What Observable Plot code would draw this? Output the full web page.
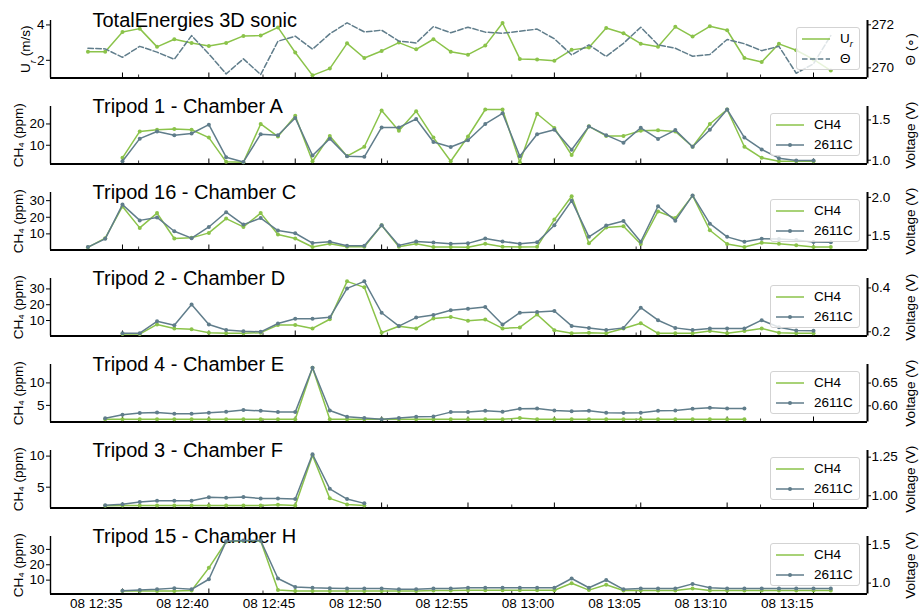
<!DOCTYPE html>
<html><head><meta charset="utf-8">
<script src="https://cdn.jsdelivr.net/npm/d3@7"></script>
<script src="https://cdn.jsdelivr.net/npm/@observablehq/plot@0.6"></script>
<style>
html,body{margin:0;padding:0;background:#fff;}
#chart{position:relative;width:919px;height:612px;font-family:"Liberation Sans",Arial,Helvetica,sans-serif;overflow:hidden;}
#chart svg.panel{position:absolute;left:0;}
.legend{position:absolute;background:rgba(255,255,255,0.8);border:1px solid #d3d3d3;border-radius:3px;box-sizing:border-box;}
.legend svg{position:absolute;left:4px;}
.legend span{position:absolute;left:43px;font-size:13.5px;line-height:16px;color:#000;white-space:nowrap;}
</style>
</head><body>
<div id="chart"></div>
<script>
// ---------------- data ----------------
const majorTicks = ["12:35","12:40","12:45","12:50","12:55","13:00","13:05","13:10","13:15"];
const minorTicks = ["12:35:56","12:43:08","12:50:20","12:57:32","13:04:44","13:11:56"];

// TotalEnergies 3D sonic, one value per minute from 12:33
const sonicStart = "12:33";
const Ur = [2.49,2.49,3.60,3.79,2.76,3.19,2.98,2.81,2.98,3.38,
            3.40,3.86,2.44,1.15,1.53,2.96,2.13,2.53,3.00,2.62,
            3.19,2.49,2.32,2.83,4.11,2.08,2.04,1.98,2.59,2.72,
            3.83,3.53,2.94,2.77,3.89,3.34,3.92,3.70,2.13,1.91,
            2.93,2.57,2.05,1.42];
const Theta = [270.91,270.88,270.49,271.00,270.73,270.40,271.50,270.65,269.72,270.42,
               269.69,271.24,271.47,270.87,271.58,272.09,271.67,271.75,271.24,271.16,
               271.92,271.63,271.89,271.66,271.61,271.70,271.80,271.35,270.60,271.07,
               270.53,271.14,271.89,271.07,270.91,270.54,270.62,271.32,271.12,270.80,
               271.00,269.75,270.19,271.50];

// Tripod 1 - Chamber A (from 12:35)
const startA = "12:35";
const ch4A = [4.1,16.5,17.3,17.6,17.3,13.6,2.2,2.0,20.0,14.1,
              23.8,2.5,14.4,4.9,9.3,26.3,16.8,26.0,13.6,2.5,
              14.1,26.8,26.8,2.0,24.8,18.1,5.4,18.9,14.4,14.4,
              16.8,17.1,16.5,9.3,20.0,26.8,9.3,4.1,2.5,2.5,
              2.5];
const voltA = [0.987,1.268,1.357,1.311,1.332,1.441,1.038,0.979,1.323,1.311,
               1.525,1.059,1.268,1.050,1.042,1.407,1.407,1.512,1.227,1.164,
               1.248,1.450,1.583,1.050,1.323,1.378,1.130,1.420,1.311,1.218,
               1.403,1.264,1.374,1.168,1.378,1.630,1.281,1.134,1.025,0.996,
               0.996];

// Tripod 16 - Chamber C (from 12:33)
const startC = "12:33";
const ch4C = [1.9,7.4,26.5,13.6,22.5,7.2,7.6,10.6,19.2,14.2,
              22.5,9.6,7.2,2.1,4.0,2.3,2.3,15.2,2.3,4.0,
              2.1,2.1,1.9,4.0,2.3,2.1,2.3,18.6,32.6,4.3,
              13.8,14.6,3.9,23.5,19.5,33.0,12.2,3.9,2.1,4.6,
              4.0,3.1,2.1,2.1];
const voltC = [1.343,1.452,1.905,1.696,1.735,1.552,1.461,1.609,1.804,1.640,
               1.726,1.561,1.526,1.396,1.413,1.360,1.360,1.631,1.365,1.417,
               1.404,1.387,1.392,1.457,1.418,1.387,1.405,1.631,1.957,1.478,
               1.627,1.687,1.413,1.883,1.692,2.026,1.653,1.478,1.413,1.452,
               1.448,1.435,1.409,1.405];

// Tripod 2 - Chamber D (from 12:35)
const startD = "12:35";
const ch4D = [1.4,1.4,7.5,5.0,4.4,2.3,1.9,1.9,2.3,7.1,
              7.1,5.0,10.8,34.8,31.0,2.3,6.4,5.0,11.3,12.3,
              9.8,10.6,5.0,5.6,13.8,3.9,1.9,2.3,1.9,5.0,
              8.3,1.9,1.9,1.9,3.3,1.9,3.3,5.0,2.3,1.9,
              1.9];
const voltD = [0.194,0.194,0.248,0.230,0.325,0.233,0.208,0.203,0.200,0.238,
               0.260,0.260,0.266,0.398,0.430,0.287,0.226,0.265,0.277,0.298,
               0.305,0.313,0.233,0.287,0.290,0.295,0.227,0.218,0.208,0.218,
               0.310,0.253,0.218,0.208,0.215,0.215,0.215,0.253,0.221,0.206,
               0.205];

// Tripod 4 - Chamber E (from 12:34)
const startE = "12:34";
const ch4E = [1.9,1.9,1.9,1.9,1.9,1.9,1.9,1.9,1.9,1.9,
              1.9,1.9,13.4,1.9,1.9,1.9,1.9,1.9,1.9,1.9,
              1.9,1.9,1.9,1.9,2.2,1.9,1.9,1.9,1.9,1.9,
              1.9,1.9,1.9,1.9,1.9,1.9,1.9,1.9];
const voltE = [0.5726,0.5804,0.5841,0.5855,0.5826,0.5826,0.5848,0.5870,0.5907,0.5891,
               0.5863,0.5863,0.6835,0.5899,0.5761,0.5733,0.5704,0.5733,0.5761,0.5769,
               0.5863,0.5863,0.5891,0.5870,0.5935,0.5942,0.5899,0.5884,0.5891,0.5848,
               0.5841,0.5848,0.5891,0.5899,0.5935,0.5957,0.5942,0.5942];

// Tripod 3 - Chamber F (from 12:34)
const startF = "12:34";
const ch4F = [2.0,2.05,2.05,2.05,2.05,2.05,2.05,2.05,2.05,2.05,2.17,2.05,10.1,3.2,2.23,2.05];
const voltF = [0.938,0.945,0.960,0.968,0.968,0.968,0.990,0.987,0.992,0.983,0.983,0.979,1.269,1.045,0.979,0.951];

// Tripod 15 - Chamber H (from 12:35)
const startH = "12:35";
const ch4H = [3.0,3.0,3.0,3.0,3.2,18.0,35.0,35.5,35.5,3.5,
              3.0,3.0,3.0,3.0,3.0,3.0,3.0,3.0,3.2,3.2,
              3.4,3.4,3.4,3.4,3.4,3.4,8.0,3.5,7.0,3.2,
              3.2,3.2,3.2,4.5,3.2,3.2,3.2,3.2,3.2,3.2,
              3.2,3.2];
const voltH = [0.90,0.91,0.92,0.935,0.92,1.05,1.54,1.55,1.55,1.06,
               0.95,0.94,0.935,0.93,0.93,0.93,0.92,0.92,0.93,0.93,
               0.94,0.94,0.94,0.94,0.94,0.94,1.06,0.94,1.04,0.92,
               0.93,0.93,0.93,0.99,0.94,0.93,0.93,0.93,0.93,0.93,
               0.93,0.93];

// ---------------- helpers ----------------
const GREEN = "#8BC34A", SLATE = "#607D8B";
const T = (s) => { const [h, m, sec = 0] = s.split(":").map(Number); return new Date(2024, 0, 8, h, m, sec); };
const series = (start, vals) => vals.map((v, i) => ({t: new Date(T(start).getTime() + i * 60000), v}));
const xDomain = [T("12:30:50"), new Date(T("13:18:07").getTime() + 500)];
const f0 = d3.format("d"), f1 = d3.format(".1f"), f2 = d3.format(".2f");

const panels = [
  {title: "TotalEnergies 3D sonic", leftLabel: "Ur (m/s)", rightLabel: "\u0398 (\u2218)", leftDx: -25, top: true,
   left: {data: series(sonicStart, Ur), domain: [1.0, 4.25], ticks: [2, 4], fmt: f0},
   right: {data: series(sonicStart, Theta), domain: [269.53, 272.2], ticks: [270, 272], fmt: f0, dashed: true},
   legend: [{label: "U<sub style='font-style:italic;font-size:70%'>r</sub>", color: GREEN}, {label: "\u0398", color: SLATE, dashed: true}]},
  {title: "Tripod 1 - Chamber A",
   left: {data: series(startA, ch4A), domain: [1.2, 28.2], ticks: [10, 20], fmt: f0},
   right: {data: series(startA, voltA), domain: [0.953, 1.667], ticks: [1.0, 1.5], fmt: f1}},
  {title: "Tripod 16 - Chamber C",
   left: {data: series(startC, ch4C), domain: [0.3, 34.9], ticks: [10, 20, 30], fmt: f0},
   right: {data: series(startC, voltC), domain: [1.304, 2.065], ticks: [1.5, 2.0], fmt: f1}},
  {title: "Tripod 2 - Chamber D",
   left: {data: series(startD, ch4D), domain: [0.2, 36.6], ticks: [10, 20, 30], fmt: f0},
   right: {data: series(startD, voltD), domain: [0.181, 0.443], ticks: [0.2, 0.4], fmt: f1}},
  {title: "Tripod 4 - Chamber E",
   left: {data: series(startE, ch4E), domain: [1.3, 14.1], ticks: [5, 10], fmt: f0},
   right: {data: series(startE, voltE), domain: [0.5646, 0.6907], ticks: [0.60, 0.65], fmt: f2}},
  {title: "Tripod 3 - Chamber F",
   left: {data: series(startF, ch4F), domain: [1.65, 10.9], ticks: [5, 10], fmt: f0},
   right: {data: series(startF, voltF), domain: [0.921, 1.293], ticks: [1.00, 1.25], fmt: f2}},
  {title: "Tripod 15 - Chamber H",
   left: {data: series(startH, ch4H), domain: [0.97, 38.4], ticks: [10, 20, 30], fmt: f0},
   right: {data: series(startH, voltH), domain: [0.859, 1.603], ticks: [1.0, 1.5], fmt: f1}}
];

const chart = document.getElementById("chart");
const FRAME_H = 57.5, STEP = 86, MT = 20;
const style = {background: "transparent", overflow: "visible", fontFamily: "'Liberation Sans', Arial, Helvetica, sans-serif", fontSize: "13.5px", color: "#000"};

panels.forEach((p, i) => {
  const top = i * STEP;
  const last = i === panels.length - 1;
  const H = last ? 612 - top : STEP;
  const MB = H - MT - FRAME_H;
  const common = {width: 919, height: H, marginLeft: 50, marginRight: 52, marginTop: MT, marginBottom: MB,
                  x: {type: "time", domain: xDomain, axis: null}, style};

  const leftMarks = [
    Plot.tickX(majorTicks.map(T), {x: d => d, insetTop: FRAME_H - 5, stroke: "#000", strokeWidth: 1}),
    Plot.tickX(minorTicks.map(T), {x: d => d, insetTop: FRAME_H - 3, stroke: "#000", strokeWidth: 0.8}),
    Plot.ruleX([xDomain[0]], {stroke: "#000", strokeWidth: 1.4}),
    Plot.ruleY([p.left.domain[0]], {stroke: "#000", strokeWidth: 2}),
    Plot.axisY({anchor: "left", ticks: p.left.ticks, tickFormat: p.left.fmt, tickSize: 4, tickPadding: 2, label: null, fontSize: 13.5}),
    Plot.line(p.left.data, {x: "t", y: "v", stroke: GREEN, strokeWidth: 1.5}),
    Plot.dot(p.left.data, {x: "t", y: "v", r: 2, fill: GREEN}),
    Plot.text([p.title], {text: d => d, frameAnchor: "top-left", dx: 42, dy: 6, textAnchor: "start", lineAnchor: "bottom", fontSize: 20}),
    Plot.text([p.leftLabel || "CH\u2084 (ppm)"], {text: d => d, frameAnchor: "left", textAnchor: "middle", lineAnchor: "middle", rotate: -90, dx: p.leftDx || -32, fontSize: 13.5})
  ];
  if (last) {
    const fmt = d3.timeFormat("%d %H:%M");
    leftMarks.push(Plot.text(majorTicks.map(T), {x: d => d, text: d => fmt(d), frameAnchor: "bottom", textAnchor: "end", lineAnchor: "top", dy: 4, fontSize: 13.5}));
  }
  const s1 = Plot.plot({...common, y: {domain: p.left.domain}, marks: leftMarks});
  s1.classList.add("panel"); s1.style.top = top + "px";
  chart.appendChild(s1);

  // subscript for U_r
  s1.querySelectorAll("text").forEach(el => {
    if (el.textContent === "Ur (m/s)") {
      el.textContent = "";
      const ns = "http://www.w3.org/2000/svg";
      const a = document.createElementNS(ns, "tspan"); a.textContent = "U";
      const b = document.createElementNS(ns, "tspan"); b.textContent = "r";
      b.setAttribute("baseline-shift", "sub"); b.setAttribute("font-size", "70%"); b.setAttribute("font-style", "italic");
      const c = document.createElementNS(ns, "tspan"); c.textContent = " (m/s)";
      el.append(a, b, c);
    }
  });

  const rightMarks = [
    Plot.ruleX([xDomain[1]], {stroke: "#000", strokeWidth: 2}),
    Plot.axisY({anchor: "right", ticks: p.right.ticks, tickFormat: p.right.fmt, tickSize: 3, tickPadding: 1, label: null, fontSize: 13.5}),
    Plot.line(p.right.data, {x: "t", y: "v", stroke: SLATE, strokeWidth: 1.5, strokeDasharray: p.right.dashed ? "5.5,2.4" : null}),
    Plot.text([p.rightLabel || "Voltage (V)"], {text: d => d, frameAnchor: "right", textAnchor: "middle", lineAnchor: "middle", rotate: -90, dx: 43, fontSize: 13.5})
  ];
  if (!p.right.dashed) rightMarks.push(Plot.dot(p.right.data, {x: "t", y: "v", r: 2, fill: SLATE}));
  const s2 = Plot.plot({...common, y: {domain: p.right.domain}, marks: rightMarks});
  s2.classList.add("panel"); s2.style.top = top + "px";
  chart.appendChild(s2);

  // legend
  const entries = p.legend || [{label: "CH4", color: GREEN}, {label: "2611C", color: SLATE, marker: true}];
  const lg = document.createElement("div");
  lg.className = "legend";
  const lx = p.top ? 796 : 770, lw = p.top ? 64 : 90;
  Object.assign(lg.style, {left: lx + "px", top: (top + MT + 7) + "px", width: lw + "px", height: "43px"});
  entries.forEach((e, k) => {
    const cy = 10.5 + 20.5 * k;
    const sw = document.createElementNS("http://www.w3.org/2000/svg", "svg");
    sw.setAttribute("width", 30); sw.setAttribute("height", 10);
    sw.style.top = (cy - 5) + "px";
    sw.innerHTML = `<line x1="1" x2="29" y1="5" y2="5" stroke="${e.color}" stroke-width="1.5" ${e.dashed ? 'stroke-dasharray="5.5,2.4"' : ''}/>` +
                   (e.marker ? `<circle cx="15" cy="5" r="2" fill="${e.color}"/>` : "");
    lg.appendChild(sw);
    const sp = document.createElement("span");
    sp.innerHTML = e.label;
    sp.style.top = (cy - 8) + "px";
    lg.appendChild(sp);
  });
  chart.appendChild(lg);
});
</script>
</body></html>
